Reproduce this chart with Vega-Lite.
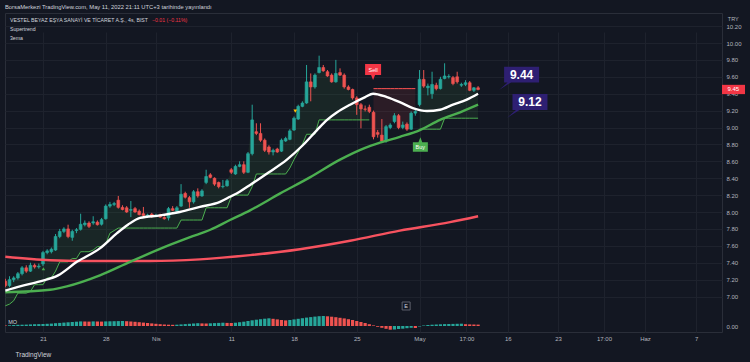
{
"$schema":"https://vega.github.io/schema/vega-lite/v6.json",
"autosize":{"type":"none"},
"width":717,"height":319,
"padding":{"left":5,"top":13,"right":28,"bottom":30},
"background":"#131722",
"title":{"text":"BorsaMerkezi TradingView.com, May 11, 2022 21:11 UTC+3 tarihinde yayınlandı","anchor":"start","fontSize":5.8,"fontWeight":"normal","color":"#d1d4dc","offset":3,"frame":"group"},
"config":{"font":"Liberation Sans","view":{"stroke":"#2a2e39","fill":"#131722"},"axis":{"gridColor":"#1e222d","labelColor":"#b2b5be","labelFontSize":6,"ticks":false,"domain":false,"labelOverlap":false,"labelFlush":false}},
"datasets":{
"bars":[
{"i":-9,"o":7.18,"h":7.21,"l":7.11,"c":7.13,"st":6.89,"sd":"u","sg":1,"mo":0.06},
{"i":-8,"o":7.13,"h":7.24,"l":7.11,"c":7.20,"st":6.91,"sd":"u","sg":1,"mo":0.08},
{"i":-7,"o":7.20,"h":7.24,"l":7.17,"c":7.22,"st":6.95,"sd":"u","sg":1,"mo":0.10},
{"i":-6,"o":7.22,"h":7.29,"l":7.20,"c":7.27,"st":7.04,"sd":"u","sg":1,"mo":0.12},
{"i":-5,"o":7.27,"h":7.36,"l":7.25,"c":7.34,"st":7.04,"sd":"u","sg":1,"mo":0.13},
{"i":-4,"o":7.34,"h":7.37,"l":7.28,"c":7.30,"st":7.04,"sd":"u","sg":1,"mo":0.14},
{"i":-3,"o":7.30,"h":7.40,"l":7.29,"c":7.37,"st":7.06,"sd":"u","sg":1,"mo":0.16},
{"i":-2,"o":7.37,"h":7.39,"l":7.33,"c":7.35,"st":7.14,"sd":"u","sg":1,"mo":0.18},
{"i":-1,"o":7.35,"h":7.39,"l":7.33,"c":7.36,"st":7.14,"sd":"u","sg":1,"mo":0.19},
{"i":0,"o":7.385,"h":7.54,"l":7.36,"c":7.52,"st":7.14,"sd":"u","sg":1,"mo":0.20},
{"i":1,"o":7.52,"h":7.56,"l":7.50,"c":7.54,"st":7.22,"sd":"u","sg":1,"mo":0.22},
{"i":2,"o":7.53,"h":7.58,"l":7.51,"c":7.56,"st":7.22,"sd":"u","sg":1,"mo":0.24},
{"i":3,"o":7.55,"h":7.74,"l":7.54,"c":7.71,"st":7.30,"sd":"u","sg":1,"mo":0.28},
{"i":4,"o":7.71,"h":7.80,"l":7.69,"c":7.77,"st":7.41,"sd":"u","sg":1,"mo":0.31},
{"i":5,"o":7.77,"h":7.82,"l":7.75,"c":7.80,"st":7.41,"sd":"u","sg":1,"mo":0.34},
{"i":6,"o":7.80,"h":7.85,"l":7.69,"c":7.71,"st":7.41,"sd":"u","sg":1,"mo":0.37},
{"i":7,"o":7.70,"h":7.79,"l":7.66,"c":7.77,"st":7.45,"sd":"u","sg":1,"mo":0.40},
{"i":8,"o":7.78,"h":7.81,"l":7.75,"c":7.79,"st":7.45,"sd":"u","sg":1,"mo":0.43},
{"i":9,"o":7.795,"h":7.98,"l":7.78,"c":7.855,"st":7.53,"sd":"u","sg":1,"mo":0.46},
{"i":10,"o":7.85,"h":7.90,"l":7.83,"c":7.87,"st":7.53,"sd":"u","sg":1,"mo":0.45},
{"i":11,"o":7.87,"h":7.89,"l":7.81,"c":7.83,"st":7.53,"sd":"u","sg":1,"mo":0.44},
{"i":12,"o":7.87,"h":7.95,"l":7.85,"c":7.885,"st":7.55,"sd":"u","sg":1,"mo":0.46},
{"i":13,"o":7.88,"h":7.90,"l":7.84,"c":7.85,"st":7.59,"sd":"u","sg":1,"mo":0.45},
{"i":14,"o":7.855,"h":7.93,"l":7.84,"c":7.91,"st":7.59,"sd":"u","sg":1,"mo":0.44},
{"i":15,"o":7.92,"h":8.09,"l":7.91,"c":8.07,"st":7.62,"sd":"u","sg":1,"mo":0.46},
{"i":16,"o":8.07,"h":8.12,"l":8.05,"c":8.09,"st":7.75,"sd":"u","sg":1,"mo":0.47},
{"i":17,"o":8.09,"h":8.12,"l":8.07,"c":8.10,"st":7.78,"sd":"u","sg":1,"mo":0.48},
{"i":18,"o":8.14,"h":8.19,"l":8.04,"c":8.055,"st":7.81,"sd":"u","sg":1,"mo":0.49},
{"i":19,"o":8.055,"h":8.08,"l":8.02,"c":8.03,"st":7.81,"sd":"u","sg":1,"mo":0.50},
{"i":20,"o":8.05,"h":8.07,"l":7.99,"c":8.00,"st":7.81,"sd":"u","sg":1,"mo":0.48},
{"i":21,"o":8.02,"h":8.13,"l":7.94,"c":8.03,"st":7.81,"sd":"u","sg":1,"mo":0.45},
{"i":22,"o":8.04,"h":8.06,"l":7.99,"c":8.00,"st":7.81,"sd":"u","sg":1,"mo":0.42},
{"i":23,"o":8.01,"h":8.03,"l":7.96,"c":7.97,"st":7.81,"sd":"u","sg":1,"mo":0.38},
{"i":24,"o":7.98,"h":8.06,"l":7.95,"c":7.96,"st":7.81,"sd":"u","sg":1,"mo":0.34},
{"i":25,"o":7.95,"h":7.98,"l":7.93,"c":7.965,"st":7.81,"sd":"u","sg":1,"mo":0.30},
{"i":26,"o":7.975,"h":7.99,"l":7.93,"c":7.945,"st":7.81,"sd":"u","sg":1,"mo":0.26},
{"i":27,"o":7.955,"h":7.98,"l":7.94,"c":7.96,"st":7.81,"sd":"u","sg":1,"mo":0.22},
{"i":28,"o":7.965,"h":7.98,"l":7.93,"c":7.94,"st":7.81,"sd":"u","sg":1,"mo":0.18},
{"i":29,"o":7.935,"h":7.95,"l":7.91,"c":7.92,"st":7.81,"sd":"u","sg":1,"mo":0.15},
{"i":30,"o":7.93,"h":8.06,"l":7.90,"c":8.04,"st":7.81,"sd":"u","sg":1,"mo":0.13},
{"i":31,"o":8.04,"h":8.07,"l":8.01,"c":8.02,"st":7.81,"sd":"u","sg":1,"mo":0.12},
{"i":32,"o":8.01,"h":8.07,"l":8.00,"c":8.05,"st":7.81,"sd":"u","sg":1,"mo":0.13},
{"i":33,"o":8.07,"h":8.33,"l":8.06,"c":8.21,"st":7.905,"sd":"u","sg":1,"mo":0.16},
{"i":34,"o":8.22,"h":8.24,"l":8.16,"c":8.175,"st":7.905,"sd":"u","sg":1,"mo":0.19},
{"i":35,"o":8.17,"h":8.19,"l":8.05,"c":8.12,"st":7.905,"sd":"u","sg":1,"mo":0.22},
{"i":36,"o":8.12,"h":8.26,"l":8.10,"c":8.24,"st":7.905,"sd":"u","sg":1,"mo":0.25},
{"i":37,"o":8.24,"h":8.28,"l":8.17,"c":8.19,"st":7.905,"sd":"u","sg":1,"mo":0.28},
{"i":38,"o":8.19,"h":8.27,"l":8.18,"c":8.25,"st":7.905,"sd":"u","sg":1,"mo":0.26},
{"i":39,"o":8.35,"h":8.50,"l":8.33,"c":8.42,"st":8.05,"sd":"u","sg":1,"mo":0.25},
{"i":40,"o":8.44,"h":8.46,"l":8.40,"c":8.41,"st":8.05,"sd":"u","sg":1,"mo":0.27},
{"i":41,"o":8.40,"h":8.41,"l":8.31,"c":8.33,"st":8.05,"sd":"u","sg":1,"mo":0.29},
{"i":42,"o":8.35,"h":8.36,"l":8.28,"c":8.30,"st":8.05,"sd":"u","sg":1,"mo":0.31},
{"i":43,"o":8.30,"h":8.38,"l":8.28,"c":8.305,"st":8.05,"sd":"u","sg":1,"mo":0.33},
{"i":44,"o":8.31,"h":8.39,"l":8.30,"c":8.37,"st":8.05,"sd":"u","sg":1,"mo":0.31},
{"i":45,"o":8.50,"h":8.52,"l":8.45,"c":8.47,"st":8.18,"sd":"u","sg":1,"mo":0.30},
{"i":46,"o":8.45,"h":8.56,"l":8.44,"c":8.54,"st":8.20,"sd":"u","sg":1,"mo":0.33},
{"i":47,"o":8.54,"h":8.60,"l":8.53,"c":8.56,"st":8.20,"sd":"u","sg":1,"mo":0.38},
{"i":48,"o":8.56,"h":8.60,"l":8.45,"c":8.47,"st":8.20,"sd":"u","sg":1,"mo":0.43},
{"i":49,"o":8.47,"h":8.71,"l":8.46,"c":8.69,"st":8.20,"sd":"u","sg":1,"mo":0.50},
{"i":50,"o":8.69,"h":9.27,"l":8.67,"c":9.09,"st":8.30,"sd":"u","sg":1,"mo":0.57},
{"i":51,"o":8.95,"h":9.05,"l":8.91,"c":8.93,"st":8.45,"sd":"u","sg":1,"mo":0.63},
{"i":52,"o":8.93,"h":9.05,"l":8.83,"c":8.85,"st":8.45,"sd":"u","sg":1,"mo":0.68},
{"i":53,"o":8.85,"h":8.87,"l":8.71,"c":8.73,"st":8.45,"sd":"u","sg":1,"mo":0.73},
{"i":54,"o":8.77,"h":8.79,"l":8.68,"c":8.71,"st":8.45,"sd":"u","sg":1,"mo":0.77},
{"i":55,"o":8.71,"h":8.75,"l":8.67,"c":8.73,"st":8.45,"sd":"u","sg":1,"mo":0.72},
{"i":56,"o":8.745,"h":8.76,"l":8.70,"c":8.71,"st":8.45,"sd":"u","sg":1,"mo":0.66},
{"i":57,"o":8.72,"h":8.87,"l":8.71,"c":8.85,"st":8.45,"sd":"u","sg":1,"mo":0.60},
{"i":58,"o":8.84,"h":8.89,"l":8.83,"c":8.87,"st":8.45,"sd":"u","sg":1,"mo":0.56},
{"i":59,"o":8.86,"h":8.98,"l":8.85,"c":8.96,"st":8.52,"sd":"u","sg":1,"mo":0.60},
{"i":60,"o":8.97,"h":9.13,"l":8.96,"c":9.11,"st":8.62,"sd":"u","sg":1,"mo":0.66},
{"i":61,"o":9.10,"h":9.27,"l":9.09,"c":9.25,"st":8.71,"sd":"u","sg":1,"mo":0.72},
{"i":62,"o":9.25,"h":9.31,"l":9.24,"c":9.29,"st":8.80,"sd":"u","sg":1,"mo":0.78},
{"i":63,"o":9.29,"h":9.74,"l":9.28,"c":9.54,"st":8.92,"sd":"u","sg":1,"mo":0.84},
{"i":64,"o":9.54,"h":9.64,"l":9.31,"c":9.48,"st":8.92,"sd":"u","sg":1,"mo":0.89},
{"i":65,"o":9.48,"h":9.64,"l":9.46,"c":9.62,"st":8.92,"sd":"u","sg":1,"mo":0.94},
{"i":66,"o":9.65,"h":9.85,"l":9.64,"c":9.71,"st":9.09,"sd":"u","sg":1,"mo":0.98},
{"i":67,"o":9.71,"h":9.74,"l":9.66,"c":9.67,"st":9.09,"sd":"u","sg":1,"mo":1.00},
{"i":68,"o":9.66,"h":9.68,"l":9.60,"c":9.61,"st":9.09,"sd":"u","sg":1,"mo":0.97},
{"i":69,"o":9.62,"h":9.64,"l":9.53,"c":9.54,"st":9.09,"sd":"u","sg":1,"mo":0.93},
{"i":70,"o":9.54,"h":9.80,"l":9.53,"c":9.64,"st":9.09,"sd":"u","sg":1,"mo":0.88},
{"i":71,"o":9.65,"h":9.70,"l":9.61,"c":9.62,"st":9.09,"sd":"u","sg":1,"mo":0.82},
{"i":72,"o":9.62,"h":9.64,"l":9.46,"c":9.48,"st":9.09,"sd":"u","sg":1,"mo":0.76},
{"i":73,"o":9.48,"h":9.50,"l":9.44,"c":9.45,"st":9.09,"sd":"u","sg":1,"mo":0.68},
{"i":74,"o":9.45,"h":9.46,"l":9.33,"c":9.35,"st":9.09,"sd":"u","sg":1,"mo":0.60},
{"i":75,"o":9.35,"h":9.37,"l":9.15,"c":9.27,"st":9.09,"sd":"u","sg":1,"mo":0.50},
{"i":76,"o":9.27,"h":9.29,"l":8.99,"c":9.22,"st":9.09,"sd":"u","sg":1,"mo":0.40},
{"i":77,"o":9.22,"h":9.26,"l":9.19,"c":9.215,"st":9.09,"sd":"u","sg":1,"mo":0.30},
{"i":78,"o":9.24,"h":9.27,"l":9.17,"c":9.19,"st":9.09,"sd":"u","sg":1,"mo":0.18},
{"i":79,"o":9.18,"h":9.20,"l":8.86,"c":8.89,"st":9.46,"sd":"d","sg":2,"mo":0.06},
{"i":80,"o":8.94,"h":8.97,"l":8.88,"c":8.92,"st":9.46,"sd":"d","sg":2,"mo":-0.08},
{"i":81,"o":8.91,"h":9.10,"l":8.83,"c":8.84,"st":9.46,"sd":"d","sg":2,"mo":-0.18},
{"i":82,"o":8.84,"h":9.03,"l":8.82,"c":9.01,"st":9.46,"sd":"d","sg":2,"mo":-0.28},
{"i":83,"o":9.00,"h":9.05,"l":8.98,"c":9.03,"st":9.46,"sd":"d","sg":2,"mo":-0.37},
{"i":84,"o":9.07,"h":9.17,"l":9.05,"c":9.14,"st":9.46,"sd":"d","sg":2,"mo":-0.35},
{"i":85,"o":9.14,"h":9.16,"l":8.98,"c":9.00,"st":9.46,"sd":"d","sg":2,"mo":-0.30},
{"i":86,"o":9.00,"h":9.07,"l":8.98,"c":9.03,"st":9.46,"sd":"d","sg":2,"mo":-0.27},
{"i":87,"o":9.04,"h":9.06,"l":8.96,"c":8.98,"st":9.46,"sd":"d","sg":2,"mo":-0.22},
{"i":88,"o":8.98,"h":9.19,"l":8.97,"c":9.17,"st":9.46,"sd":"d","sg":2,"mo":-0.18},
{"i":89,"o":9.17,"h":9.22,"l":9.14,"c":9.19,"st":9.46,"sd":"d","sg":2,"mo":-0.20},
{"i":90,"o":9.27,"h":9.68,"l":9.25,"c":9.57,"st":8.98,"sd":"u","sg":3,"mo":-0.05},
{"i":91,"o":9.57,"h":9.68,"l":9.47,"c":9.49,"st":8.98,"sd":"u","sg":3,"mo":0.05},
{"i":92,"o":9.47,"h":9.52,"l":9.38,"c":9.49,"st":8.98,"sd":"u","sg":3,"mo":0.10},
{"i":93,"o":9.40,"h":9.66,"l":9.34,"c":9.51,"st":8.98,"sd":"u","sg":3,"mo":0.13},
{"i":94,"o":9.50,"h":9.53,"l":9.44,"c":9.46,"st":8.98,"sd":"u","sg":3,"mo":0.15},
{"i":95,"o":9.46,"h":9.60,"l":9.45,"c":9.57,"st":8.98,"sd":"u","sg":3,"mo":0.17},
{"i":96,"o":9.58,"h":9.76,"l":9.57,"c":9.61,"st":9.11,"sd":"u","sg":3,"mo":0.19},
{"i":97,"o":9.60,"h":9.63,"l":9.58,"c":9.605,"st":9.11,"sd":"u","sg":3,"mo":0.20},
{"i":98,"o":9.59,"h":9.61,"l":9.50,"c":9.52,"st":9.11,"sd":"u","sg":3,"mo":0.21},
{"i":99,"o":9.60,"h":9.66,"l":9.52,"c":9.54,"st":9.11,"sd":"u","sg":3,"mo":0.22},
{"i":100,"o":9.50,"h":9.53,"l":9.48,"c":9.51,"st":9.11,"sd":"u","sg":3,"mo":0.23},
{"i":101,"o":9.51,"h":9.56,"l":9.49,"c":9.53,"st":9.11,"sd":"u","sg":3,"mo":0.18},
{"i":102,"o":9.53,"h":9.55,"l":9.43,"c":9.44,"st":9.11,"sd":"u","sg":3,"mo":0.16},
{"i":103,"o":9.44,"h":9.48,"l":9.42,"c":9.47,"st":9.11,"sd":"u","sg":3,"mo":0.15},
{"i":104,"o":9.47,"h":9.49,"l":9.44,"c":9.45,"st":9.11,"sd":"u","sg":3,"mo":0.14}
],
"ema":[
{"i":-9,"v":7.07,"k":"w"},{"i":-5.5,"v":7.12,"k":"w"},{"i":-0.7,"v":7.18,"k":"w"},{"i":3.6,"v":7.25,"k":"w"},{"i":8.1,"v":7.41,"k":"w"},{"i":13.6,"v":7.57,"k":"w"},{"i":17.7,"v":7.75,"k":"w"},{"i":20.3,"v":7.85,"k":"w"},{"i":23.2,"v":7.93,"k":"w"},{"i":28,"v":7.96,"k":"w"},{"i":32.7,"v":8.0,"k":"w"},{"i":37.5,"v":8.06,"k":"w"},{"i":42.3,"v":8.12,"k":"w"},{"i":44.7,"v":8.18,"k":"w"},{"i":47,"v":8.24,"k":"w"},{"i":49.5,"v":8.32,"k":"w"},{"i":54,"v":8.47,"k":"w"},{"i":58.3,"v":8.62,"k":"w"},{"i":62.1,"v":8.79,"k":"w"},{"i":65.5,"v":8.97,"k":"w"},{"i":67.9,"v":9.09,"k":"w"},{"i":70.3,"v":9.18,"k":"w"},{"i":73.4,"v":9.27,"k":"w"},{"i":77,"v":9.36,"k":"w"},{"i":78.9,"v":9.40,"k":"w"},{"i":82.2,"v":9.36,"k":"w"},{"i":85.3,"v":9.30,"k":"w"},{"i":88.4,"v":9.23,"k":"w"},{"i":91.8,"v":9.195,"k":"w"},{"i":94.9,"v":9.21,"k":"w"},{"i":98,"v":9.27,"k":"w"},{"i":101.3,"v":9.33,"k":"w"},{"i":104,"v":9.40,"k":"w"},
{"i":-9,"v":7.05,"k":"g"},{"i":1.7,"v":7.08,"k":"g"},{"i":5.7,"v":7.12,"k":"g"},{"i":13.6,"v":7.25,"k":"g"},{"i":20.8,"v":7.41,"k":"g"},{"i":30.3,"v":7.61,"k":"g"},{"i":35,"v":7.70,"k":"g"},{"i":40,"v":7.79,"k":"g"},{"i":44.7,"v":7.905,"k":"g"},{"i":49.5,"v":8.02,"k":"g"},{"i":56.7,"v":8.22,"k":"g"},{"i":63.8,"v":8.41,"k":"g"},{"i":71,"v":8.62,"k":"g"},{"i":77,"v":8.76,"k":"g"},{"i":80.5,"v":8.82,"k":"g"},{"i":85.3,"v":8.89,"k":"g"},{"i":90.1,"v":8.97,"k":"g"},{"i":94.9,"v":9.09,"k":"g"},{"i":99.7,"v":9.18,"k":"g"},{"i":104,"v":9.27,"k":"g"},
{"i":-9,"v":7.47,"k":"r"},{"i":1.7,"v":7.43,"k":"r"},{"i":13.6,"v":7.42,"k":"r"},{"i":25.6,"v":7.42,"k":"r"},{"i":37.5,"v":7.44,"k":"r"},{"i":49.5,"v":7.49,"k":"r"},{"i":61.4,"v":7.56,"k":"r"},{"i":73.4,"v":7.66,"k":"r"},{"i":85.3,"v":7.78,"k":"r"},{"i":97.3,"v":7.88,"k":"r"},{"i":104,"v":7.95,"k":"r"}
]
},
"encoding":{"x":{"field":"i","type":"quantitative","scale":{"domain":[-9.08,162.3],"nice":false,"zero":false,"padding":0},
 "axis":{"values":[0,15,27,45,60,75,90,101.2,111.1,123.1,134.1,143.9,156.1],"tickCount":30,"grid":true,"labelPadding":3,"labelOverlap":false,
 "labelExpr":"datum.value == 0 ? '21' : datum.value == 15 ? '28' : datum.value == 27 ? 'Nis' : datum.value == 45 ? '11' : datum.value == 60 ? '18' : datum.value == 75 ? '25' : datum.value == 90 ? 'May' : datum.value == 101.2 ? '17:00' : datum.value == 111.1 ? '16' : datum.value == 123.1 ? '23' : datum.value == 134.1 ? '17:00' : datum.value == 143.9 ? 'Haz' : '7'",
 "title":"TradingView","titleAnchor":"start","titleAlign":"left","titleX":10,"titleY":22,"titleFontSize":6.5,"titleColor":"#d1d4dc","titleFontWeight":"normal","titleBaseline":"middle"}}},
"layer":[
{"layer":[
{"data":{"name":"bars"},"mark":{"type":"area","opacity":0.1,"clip":true},
 "encoding":{"y":{"field":"st","type":"quantitative","stack":null,"scale":{"domain":[6.805,10.355],"range":[300,0],"nice":false,"zero":false},"axis":{"orient":"right","values":[7,7.2,7.4,7.6,7.8,8,8.2,8.4,8.6,8.8,9,9.2,9.4,9.6,9.8,10,10.2],"tickCount":30,"format":".2f","grid":true,"labelPadding":4,"labelOverlap":false,"title":null}},
 "y2":{"field":"c"},"color":{"field":"sd","type":"nominal","scale":{"domain":["u","d"],"range":["#4caf50","#ff5252"]},"legend":null},"detail":{"field":"sg"}}},
{"data":{"name":"bars"},"mark":{"type":"rule","clip":true,"strokeWidth":1},
 "encoding":{"y":{"field":"l","type":"quantitative"},"y2":{"field":"h"},"color":{"condition":{"test":"datum.c >= datum.o","value":"#26a69a"},"value":"#ef5350"}}},
{"data":{"name":"bars"},"mark":{"type":"bar","clip":true,"size":2.8,"strokeWidth":0.6},
 "encoding":{"y":{"field":"o","type":"quantitative"},"y2":{"field":"c"},"color":{"condition":{"test":"datum.c >= datum.o","value":"#26a69a"},"value":"#ef5350"},"stroke":{"condition":{"test":"datum.c >= datum.o","value":"#26a69a"},"value":"#ef5350"}}},
{"data":{"name":"bars"},"mark":{"type":"line","clip":true,"strokeWidth":1},
 "encoding":{"y":{"field":"st","type":"quantitative"},"color":{"field":"sd","type":"nominal","legend":null},"detail":{"field":"sg"}}},
{"data":{"name":"ema"},"transform":[{"filter":"datum.k == 'r'"}],"mark":{"type":"line","clip":true,"strokeWidth":2.4,"interpolate":"monotone","color":"#f7525f"},
 "encoding":{"y":{"field":"v","type":"quantitative"}}},
{"data":{"name":"ema"},"transform":[{"filter":"datum.k == 'g'"}],"mark":{"type":"line","clip":true,"strokeWidth":2.4,"interpolate":"monotone","color":"#4caf50"},
 "encoding":{"y":{"field":"v","type":"quantitative"}}},
{"data":{"name":"ema"},"transform":[{"filter":"datum.k == 'w'"}],"mark":{"type":"line","clip":true,"strokeWidth":2.4,"interpolate":"monotone","color":"#ffffff"},
 "encoding":{"y":{"field":"v","type":"quantitative"}}},
{"data":{"values":[{"p":9.45}]},"mark":{"type":"rule","strokeDash":[1,2],"color":"#f23645","strokeWidth":1,"opacity":0.8},
 "encoding":{"y":{"field":"p","type":"quantitative"}}},
{"data":{"values":[{"i":0.1,"p":7.33}]},"mark":{"type":"point","shape":"triangle-up","filled":true,"size":12,"color":"#4caf50","opacity":1},
 "encoding":{"y":{"field":"p","type":"quantitative"}}},
{"data":{"values":[{"i":60.3,"p":9.195}]},"mark":{"type":"point","shape":"triangle-down","filled":true,"size":14,"color":"#ffc107","opacity":1},
 "encoding":{"y":{"field":"p","type":"quantitative"}}},
{"data":{"values":[{"i":78.9,"p":9.686}]},"mark":{"type":"point","shape":"M-1,-0.69L1,-0.69L1,0.69L0.25,0.69L0,1.3L-0.25,0.69L-1,0.69Z","size":256,"filled":true,"color":"#f23645","opacity":1},
 "encoding":{"y":{"field":"p","type":"quantitative"}}},
{"data":{"values":[{"i":90.2,"p":8.769}]},"mark":{"type":"point","shape":"M-1,-0.63L-0.25,-0.63L0,-1.3L0.25,-0.63L1,-0.63L1,0.63L-1,0.63Z","size":225,"filled":true,"color":"#4caf50","opacity":1},
 "encoding":{"y":{"field":"p","type":"quantitative"}}},
{"data":{"values":[{"i":78.9,"p":9.686,"t":"Sell"},{"i":90.2,"p":8.769,"t":"Buy"}]},"mark":{"type":"text","fontSize":5.5,"color":"#ffffff","align":"center","baseline":"middle"},
 "encoding":{"y":{"field":"p","type":"quantitative"},"text":{"field":"t"}}},
{"data":{"values":[{"i":114.4,"p":9.627}]},"mark":{"type":"point","shape":"M-1,-0.45L1,-0.45L1,0.45L-0.6,0.45L-1.29,0.89L-0.8,0.45L-1,0.45Z","size":1225,"filled":true,"color":"#2e1f72","opacity":1},
 "encoding":{"y":{"field":"p","type":"quantitative"}}},
{"data":{"values":[{"i":116.4,"p":9.302}]},"mark":{"type":"point","shape":"M-1,-0.46L1,-0.46L1,0.46L-0.6,0.46L-1.31,0.91L-0.8,0.46L-1,0.46Z","size":1225,"filled":true,"color":"#2e1f72","opacity":1},
 "encoding":{"y":{"field":"p","type":"quantitative"}}},
{"data":{"values":[{"i":114.4,"p":9.627,"t":"9.44"},{"i":116.4,"p":9.302,"t":"9.12"}]},"mark":{"type":"text","fontSize":12,"fontWeight":"bold","color":"#ffffff","align":"center","baseline":"middle"},
 "encoding":{"y":{"field":"p","type":"quantitative"},"text":{"field":"t"}}},
{"data":{"values":[{"i":86.8,"p":6.888}]},"mark":{"type":"point","shape":"square","filled":false,"size":64,"color":"#5d606b","strokeWidth":1,"opacity":1},
 "encoding":{"y":{"field":"p","type":"quantitative"}}},
{"data":{"values":[{"i":86.8,"p":6.888,"t":"E"}]},"mark":{"type":"text","fontSize":5.5,"color":"#d1d4dc","align":"center","baseline":"middle"},
 "encoding":{"y":{"field":"p","type":"quantitative"},"text":{"field":"t"}}},
{"data":{"values":[{"i":-7.89,"p":10.272,"t":"VESTEL BEYAZ EŞYA SANAYİ VE TİCARET A.Ş., 4s, BIST"},{"i":-7.89,"p":10.166,"t":"Supertrend"},{"i":-7.89,"p":10.065,"t":"3ema"}]},"mark":{"type":"text","fontSize":5.2,"color":"#d1d4dc","align":"left","baseline":"middle"},
 "encoding":{"y":{"field":"p","type":"quantitative"},"text":{"field":"t"}}},
{"data":{"values":[{"i":26.05,"p":10.272,"t":"−0.01 (−0.11%)"}]},"mark":{"type":"text","fontSize":5.2,"color":"#f23645","align":"left","baseline":"middle"},
 "encoding":{"y":{"field":"p","type":"quantitative"},"text":{"field":"t"}}},
{"data":{"values":[{"i":162.3,"i2":167.8,"p":9.505,"p2":9.395}]},"mark":{"type":"rect","color":"#f23645","clip":false},
 "encoding":{"x2":{"field":"i2"},"y":{"field":"p","type":"quantitative"},"y2":{"field":"p2"}}},
{"data":{"values":[{"i":165,"p":9.45,"t":"9.45"}]},"mark":{"type":"text","fontSize":6,"color":"#ffffff","align":"center","baseline":"middle"},
 "encoding":{"y":{"field":"p","type":"quantitative"},"text":{"field":"t"}}},
{"data":{"values":[{"i":165,"p":10.284,"t":"TRY"}]},"mark":{"type":"text","fontSize":5.5,"color":"#b2b5be","align":"center","baseline":"middle"},
 "encoding":{"y":{"field":"p","type":"quantitative"},"text":{"field":"t"}}}
]},
{"layer":[
{"data":{"name":"bars"},"transform":[{"window":[{"op":"lag","field":"mo","as":"pm"}],"sort":[{"field":"i"}]}],
 "mark":{"type":"bar","size":3.2,"clip":true},
 "encoding":{"y":{"field":"mo","type":"quantitative","scale":{"domain":[-0.6,1.3],"range":[319,300],"nice":false,"zero":false},"axis":{"orient":"right","values":[0],"format":".2f","grid":false,"labelPadding":4,"labelOverlap":false,"title":null}},
 "color":{"condition":{"test":"datum.pm != null && datum.mo >= datum.pm","value":"#26a69a"},"value":"#ef5350"}}},
{"data":{"values":[{"m":1.3}]},"mark":{"type":"rule","color":"#2a2e39","strokeWidth":1},
 "encoding":{"y":{"field":"m","type":"quantitative"}}},
{"data":{"values":[{"i":-8.3,"mo":0.45,"t":"MO"}]},"mark":{"type":"text","align":"left","baseline":"middle","fontSize":5.5,"color":"#d1d4dc"},
 "encoding":{"y":{"field":"mo","type":"quantitative"},"text":{"field":"t"}}}
]}
],
"resolve":{"scale":{"y":"independent"},"axis":{"y":"independent"}}
}
